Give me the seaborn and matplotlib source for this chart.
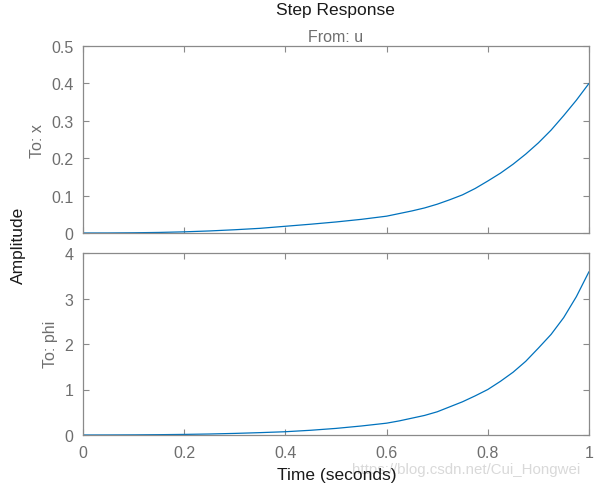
import numpy as np
import pandas as pd
import matplotlib
matplotlib.use("Agg")
import matplotlib.pyplot as plt
import seaborn as sns

# ---- data ----
time_s = [0.00, 0.05, 0.10, 0.15, 0.20, 0.25, 0.30, 0.35, 0.40, 0.45, 0.50,
          0.55, 0.60, 0.625, 0.65, 0.675, 0.70, 0.725, 0.75, 0.775, 0.80,
          0.825, 0.85, 0.875, 0.90, 0.925, 0.95, 0.975, 1.00]
x_resp = [0.0, 0.0001, 0.0006, 0.0015, 0.0031, 0.0055, 0.0087, 0.0125, 0.018,
          0.0235, 0.0295, 0.0365, 0.045, 0.052, 0.059, 0.067, 0.077, 0.089,
          0.102, 0.119, 0.139, 0.160, 0.184, 0.211, 0.241, 0.275, 0.314,
          0.355, 0.400]
phi_resp = [0.0, 0.001, 0.003, 0.007, 0.013, 0.022, 0.035, 0.052, 0.072,
            0.104, 0.145, 0.198, 0.260, 0.310, 0.370, 0.430, 0.510, 0.620,
            0.730, 0.860, 1.000, 1.180, 1.380, 1.620, 1.910, 2.210, 2.580,
            3.040, 3.590]
x_ticks = [0, 0.2, 0.4, 0.6, 0.8, 1]
x_tick_labels = ["0", "0.2", "0.4", "0.6", "0.8", "1"]
top_yticks = [0, 0.1, 0.2, 0.3, 0.4, 0.5]
top_ylabels = ["0", "0.1", "0.2", "0.3", "0.4", "0.5"]
bot_yticks = [0, 1, 2, 3, 4]
bot_ylabels = ["0", "1", "2", "3", "4"]

df = pd.DataFrame({"t": time_s, "x": x_resp, "phi": phi_resp})

sns.set_theme(style="white")
plt.rcParams["font.family"] = ["Liberation Sans", "DejaVu Sans"]
plt.rcParams["lines.solid_joinstyle"] = "round"

LINE = "#0072BD"
GRAY = "#6e6e6e"
SPINE = "#8a8a8a"

fig = plt.figure(figsize=(6.05, 4.85), dpi=100)
L, W = 83 / 605, (589 - 83) / 605
ax1 = fig.add_axes([L, 1 - 234 / 485, W, (234 - 47) / 485])
ax2 = fig.add_axes([L, 1 - 436 / 485, W, (436 - 254) / 485])

sns.lineplot(data=df, x="t", y="x", ax=ax1, color=LINE, linewidth=0.9)
sns.lineplot(data=df, x="t", y="phi", ax=ax2, color=LINE, linewidth=0.9)

for ax, yt, yl, ylim in [(ax1, top_yticks, top_ylabels, (0, 0.5)),
                         (ax2, bot_yticks, bot_ylabels, (0, 4))]:
    ax.set_xlim(0, 1)
    ax.set_ylim(*ylim)
    ax.set_xticks(x_ticks)
    ax.set_yticks(yt)
    ax.set_yticklabels(yl)
    ax.set_xlabel("")
    ax.set_ylabel("")
    ax.tick_params(direction="in", length=4, width=0.8, color=SPINE,
                   labelcolor=GRAY, labelsize=11.5, top=True, right=True,
                   left=True, bottom=True, pad=7)
    for s in ax.spines.values():
        s.set_color(SPINE)
        s.set_linewidth(0.9)

ax1.set_xticklabels([])
ax2.set_xticklabels(x_tick_labels)

fig.text(335 / 605, 1 - 10 / 485, "Step Response", ha="center", va="center",
         fontsize=12.5, color="#1a1a1a")
fig.text(336 / 605, 1 - 38 / 485, "From: u", ha="center", va="center",
         fontsize=11.5, color=GRAY)
fig.text(38 / 605, 1 - 141 / 485, "To: x", ha="center", va="center",
         rotation=90, fontsize=11.5, color=GRAY)
fig.text(51 / 605, 1 - 344 / 485, "To: phi", ha="center", va="center",
         rotation=90, fontsize=11.5, color=GRAY)
fig.text(18 / 605, 1 - 245 / 485, "Amplitude", ha="center", va="center",
         rotation=90, fontsize=12.5, color="#1a1a1a")
fig.text(337 / 605, 1 - 476 / 485, "Time (seconds)", ha="center", va="center",
         fontsize=12.5, color="#1a1a1a")
fig.text(352 / 605, 1 - 470 / 485, "https://blog.csdn.net/Cui_Hongwei",
         ha="left", va="center", fontsize=10.8, color="#d9d9d9", zorder=0)

fig.savefig("out.png", dpi=100)
